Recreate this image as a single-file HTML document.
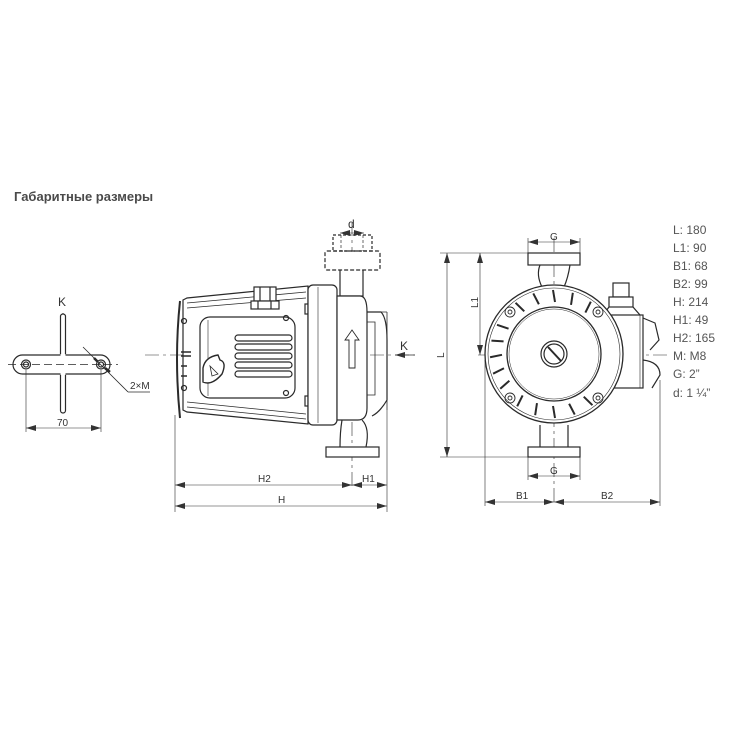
<!DOCTYPE html>
<html><head><meta charset="utf-8"><style>
html,body{margin:0;padding:0;background:#fff;}
svg{display:block;}
text{font-family:"Liberation Sans","DejaVu Sans",sans-serif;}
</style></head><body>
<svg width="750" height="750" viewBox="0 0 750 750" xmlns="http://www.w3.org/2000/svg">
<defs>
<marker id="a" viewBox="0 0 10 6" refX="10" refY="3" markerWidth="10" markerHeight="6" orient="auto-start-reverse" markerUnits="userSpaceOnUse"><path d="M0,0 L10,3 L0,6z" fill="#333"/></marker>
</defs>
<text x="14" y="201" font-size="13" font-weight="bold" fill="#4a4a4a">Габаритные размеры</text>

<g stroke="#2a2a2a" fill="none" stroke-width="1.2">
<!-- K detail -->
<line x1="63" y1="313" x2="63" y2="413" stroke-width="0.8"/>
<rect x="60.5" y="314" width="5" height="99" rx="2.5" fill="#fff"/>
<rect x="13" y="355" width="97" height="19" rx="9.5" fill="#fff"/>
<rect x="60.5" y="354" width="5" height="21" fill="#fff" stroke="none"/>
<line x1="8" y1="364.5" x2="118" y2="364.5" stroke-dasharray="8,4" stroke-width="0.8"/>
<circle cx="26" cy="364.5" r="4.5"/><circle cx="26" cy="364.5" r="2.5"/>
<circle cx="101" cy="364.5" r="4.5"/><circle cx="101" cy="364.5" r="2.5"/>
<line x1="83" y1="347" x2="128" y2="392" stroke-width="0.8"/>
<path d="M94,358 L98,362 M105,368 L110,372" stroke-width="2.5"/>
<line x1="128" y1="392" x2="150" y2="392" stroke-width="0.8"/>
<line x1="26" y1="370" x2="26" y2="432" stroke-width="0.6"/>
<line x1="101" y1="370" x2="101" y2="432" stroke-width="0.6"/>
<line x1="26" y1="428" x2="101" y2="428" stroke-width="0.6" marker-start="url(#a)" marker-end="url(#a)"/>

<!-- side view -->
<line x1="145" y1="355" x2="415" y2="355" stroke-dasharray="14,4,3,4" stroke-width="0.6"/>
<line x1="352" y1="222" x2="352" y2="490" stroke-dasharray="14,4,3,4" stroke-width="0.6"/>
<path d="M180,301 Q174,358 180,418" stroke-width="2"/>
<path d="M183,300 L187,298 L308,286 L308,424 L187,412 L183,410 Z" fill="#fff"/>
<path d="M187,303 L306,292 M187,308 L306,298 M187,402 L306,414 M187,407 L306,419" stroke-width="0.8"/>
<rect x="200" y="317" width="95" height="81" rx="10" fill="#fff"/>
<path d="M208,320 L208,396" stroke-width="0.6"/>
<circle cx="184" cy="321" r="2.5"/><circle cx="184" cy="388" r="2.5"/>
<circle cx="286" cy="318" r="2.5"/><circle cx="286" cy="393" r="2.5"/>
<rect x="235" y="335" width="57" height="6" rx="3"/>
<rect x="235" y="344" width="57" height="6" rx="3"/>
<rect x="235" y="353" width="57" height="6" rx="3"/>
<rect x="235" y="362" width="57" height="6" rx="3"/>
<rect x="235" y="371" width="57" height="6" rx="3"/>
<path d="M203,368 Q205,357 218,355 L220,360 Q227,362 222,374 Q212,386 203,382 Z" fill="#fff" stroke-width="1.4"/>
<path d="M210,366 L218,374 L212,376 Z" stroke-width="0.8"/>
<path d="M181,352 h10 M181,356 h10 M181,366 h6 M181,376 h6" stroke-width="1.5"/>
<rect x="254" y="287" width="22" height="14" fill="#fff"/>
<rect x="251" y="301" width="28" height="8" fill="#fff"/>
<path d="M260,287 V301 M270,287 V301 M258,301 V309 M271,301 V309"/>
<rect x="305" y="304" width="6" height="10"/><rect x="305" y="396" width="6" height="10"/>
<rect x="308" y="285" width="29" height="140" rx="5" fill="#fff"/>
<line x1="318" y1="287" x2="318" y2="423" stroke-width="0.6"/>
<rect x="340" y="266" width="23" height="30" fill="#fff"/>
<path d="M337,296 L360,296 Q367,296 367,312 L367,408 Q367,420 358,420 L337,420 Z" fill="#fff"/>
<path d="M367,312 L381,312 Q387,318 387,340 L387,400 Q380,412 372,416" />
<path d="M367,322 L375,322 L375,395 L367,395" stroke-width="0.8"/>
<path d="M387,312 V410 M380,312 L387,312" stroke-width="0.8"/>
<path d="M342,420 Q340,432 340,447 M362,420 Q370,428 366,447"/>
<rect x="326" y="447" width="53" height="10" fill="#fff"/>
<rect x="325" y="251" width="55" height="19" rx="2" fill="#fff" stroke-dasharray="4,2"/>
<rect x="333" y="235" width="39" height="16" stroke-dasharray="3,2"/>
<path d="M341,235 V251 M363,235 V251" stroke-dasharray="3,2" stroke-width="0.7"/>
<line x1="340" y1="233" x2="364" y2="233" stroke-width="0.6" marker-start="url(#a)" marker-end="url(#a)"/>
<path d="M348,330 L355,340 L351,340 L351,368 L345,368 L345,340 L341,340 Z" transform="translate(4,0)" stroke-width="0.9"/>
<line x1="395" y1="355" x2="415" y2="355" marker-start="url(#a)" stroke-width="0.8"/>
<line x1="175" y1="415" x2="175" y2="512" stroke-width="0.6"/>
<line x1="387" y1="410" x2="387" y2="512" stroke-width="0.6"/>
<line x1="175" y1="485" x2="352" y2="485" stroke-width="0.6" marker-start="url(#a)" marker-end="url(#a)"/>
<line x1="352" y1="485" x2="387" y2="485" stroke-width="0.6" marker-start="url(#a)" marker-end="url(#a)"/>
<line x1="175" y1="506" x2="387" y2="506" stroke-width="0.6" marker-start="url(#a)" marker-end="url(#a)"/>

<!-- front view -->
<line x1="554" y1="238" x2="554" y2="505" stroke-dasharray="14,4,3,4" stroke-width="0.6"/>
<line x1="478" y1="355" x2="670" y2="355" stroke-dasharray="14,4,3,4" stroke-width="0.6"/>
<path d="M540,265 Q536,275 542,287 M570,265 Q568,278 564,287"/>
<path d="M540,425 L540,447 M568,425 L568,447"/>
<rect x="528" y="253" width="52" height="12" fill="#fff"/>
<rect x="528" y="447" width="52" height="10" fill="#fff"/>
<rect x="603" y="315" width="40" height="73" fill="#fff"/>
<line x1="640" y1="315" x2="640" y2="388" stroke-width="0.6"/>
<path d="M643,318 L655,323 L659,340 L650,350 M643,360 Q660,362 660,375 L652,388" />
<rect x="613" y="283" width="16" height="14" fill="#fff"/>
<rect x="609" y="297" width="24" height="10" fill="#fff"/>
<path d="M609,307 L603,315 M633,307 L640,315"/>
<circle cx="554" cy="354" r="69" fill="#fff" stroke-width="1.3"/>
<circle cx="554" cy="354" r="66" stroke-width="0.6"/>
<circle cx="554" cy="354" r="47" stroke-width="1.3"/>
<circle cx="554" cy="354" r="45" stroke-width="0.5"/>
<circle cx="554" cy="354" r="13"/><circle cx="554" cy="354" r="10"/>
<line x1="548" y1="347" x2="561" y2="361" stroke-width="2"/>
<g stroke-width="2">
<path d="M553,290 L555,302" transform="rotate(-18 554 354)"/><path d="M553,290 L555,302" transform="rotate(-36 554 354)"/>
<path d="M553,290 L555,302" transform="rotate(18 554 354)"/><path d="M553,290 L555,302" transform="rotate(36 554 354)"/>
<path d="M553,290 L555,302" transform="rotate(-62 554 354)"/><path d="M553,290 L555,302" transform="rotate(-77 554 354)"/>
<path d="M553,290 L555,302" transform="rotate(-92 554 354)"/><path d="M553,290 L555,302" transform="rotate(-107 554 354)"/>
<path d="M553,290 L555,302" transform="rotate(-122 554 354)"/>
<path d="M553,290 L555,302" transform="rotate(-144 554 354)"/><path d="M553,290 L555,302" transform="rotate(-162 554 354)"/>
<path d="M553,290 L555,302" transform="rotate(180 554 354)"/>
<path d="M553,290 L555,302" transform="rotate(162 554 354)"/><path d="M553,290 L555,302" transform="rotate(144 554 354)"/>
<path d="M553,290 L555,302"/>
</g>
<g stroke-width="0.9">
<circle cx="510" cy="312" r="5"/><circle cx="510" cy="312" r="2"/>
<circle cx="598" cy="312" r="5"/><circle cx="598" cy="312" r="2"/>
<circle cx="510" cy="398" r="5"/><circle cx="510" cy="398" r="2"/>
<circle cx="598" cy="398" r="5"/><circle cx="598" cy="398" r="2"/>
</g>
<line x1="440" y1="253" x2="528" y2="253" stroke-width="0.6"/>
<line x1="440" y1="457" x2="528" y2="457" stroke-width="0.6"/>
<line x1="447" y1="253" x2="447" y2="457" stroke-width="0.6" marker-start="url(#a)" marker-end="url(#a)"/>
<line x1="480" y1="253" x2="480" y2="355" stroke-width="0.6" marker-start="url(#a)" marker-end="url(#a)"/>
<line x1="528" y1="238" x2="528" y2="253" stroke-width="0.6"/><line x1="580" y1="238" x2="580" y2="253" stroke-width="0.6"/>
<line x1="528" y1="242" x2="580" y2="242" stroke-width="0.6" marker-start="url(#a)" marker-end="url(#a)"/>
<line x1="528" y1="457" x2="528" y2="480" stroke-width="0.6"/><line x1="580" y1="457" x2="580" y2="480" stroke-width="0.6"/>
<line x1="528" y1="476" x2="580" y2="476" stroke-width="0.6" marker-start="url(#a)" marker-end="url(#a)"/>
<line x1="485" y1="360" x2="485" y2="506" stroke-width="0.6"/>
<line x1="660" y1="380" x2="660" y2="506" stroke-width="0.6"/>
<line x1="485" y1="502" x2="554" y2="502" stroke-width="0.6" marker-start="url(#a)" marker-end="url(#a)"/>
<line x1="554" y1="502" x2="660" y2="502" stroke-width="0.6" marker-start="url(#a)" marker-end="url(#a)"/>
</g>

<g fill="#333" font-size="10">
<text x="58" y="306" font-size="12">K</text>
<text x="130" y="389">2×M</text>
<text x="57" y="426">70</text>
<text x="348" y="228" font-size="12">d</text>
<text x="400" y="350" font-size="12">K</text>
<text x="258" y="482">H2</text>
<text x="362" y="482">H1</text>
<text x="278" y="503">H</text>
<text x="550" y="240">G</text>
<text x="550" y="474">G</text>
<text x="516" y="499">B1</text>
<text x="601" y="499">B2</text>
<text x="444" y="358" transform="rotate(-90 444 358)">L</text>
<text x="478" y="308" transform="rotate(-90 478 308)">L1</text>
</g>
<g fill="#555" font-size="12">
<text x="673" y="234">L: 180</text>
<text x="673" y="252">L1: 90</text>
<text x="673" y="270">B1: 68</text>
<text x="673" y="288">B2: 99</text>
<text x="673" y="306">H: 214</text>
<text x="673" y="324">H1: 49</text>
<text x="673" y="342">H2: 165</text>
<text x="673" y="360">M: M8</text>
<text x="673" y="378">G: 2”</text>
<text x="673" y="397">d: 1 ¼”</text>
</g>
</svg>
</body></html>
